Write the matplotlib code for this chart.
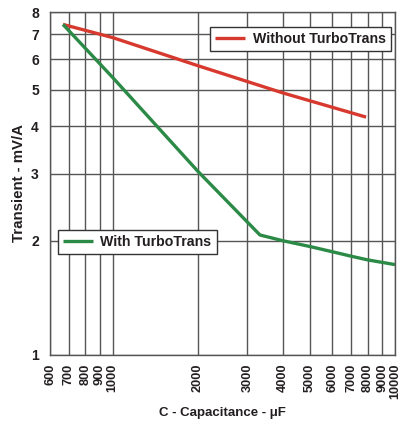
import matplotlib
matplotlib.use("Agg")
import matplotlib.pyplot as plt
from matplotlib.ticker import FixedLocator, NullLocator

# values
cap_without = [667, 1000, 2000, 4000, 7900]
trans_without = [7.42, 6.85, 5.78, 4.90, 4.23]

cap_with = [667, 1000, 2000, 3325, 4000, 5000, 6000, 7000, 8000, 10000]
trans_with = [7.42, 5.38, 3.05, 2.07, 2.00, 1.93, 1.87, 1.82, 1.78, 1.73]

x_ticks = [600, 700, 800, 900, 1000, 2000, 3000, 4000, 5000, 6000, 7000, 8000, 9000, 10000]
y_ticks = [1, 2, 3, 4, 5, 6, 7, 8]

plt.rcParams['font.family'] = ['Liberation Sans', 'DejaVu Sans']
txt = '#231f20'
grid_c = '#555555'

fig = plt.figure(figsize=(4.07, 4.29), dpi=100)
ax = fig.add_axes([50 / 407, 1 - 355 / 429, 345 / 407, 343 / 429])

ax.set_xscale('log')
ax.set_yscale('log')
ax.set_xlim(600, 10000)
ax.set_ylim(1, 8)

ax.xaxis.set_major_locator(FixedLocator(x_ticks))
ax.xaxis.set_minor_locator(NullLocator())
ax.yaxis.set_major_locator(FixedLocator(y_ticks))
ax.yaxis.set_minor_locator(NullLocator())
ax.set_xticklabels([str(v) for v in x_ticks], rotation=90, fontweight='bold',
                   fontsize=9.2, color=txt)
ax.set_yticklabels([str(v) for v in y_ticks], fontweight='bold', fontsize=10, color=txt)
ax.tick_params(axis='x', length=0, pad=6)
ax.tick_params(axis='y', length=0, pad=8)
ax.grid(True, color=grid_c, linewidth=1.0)
for s in ax.spines.values():
    s.set_color(grid_c)
    s.set_linewidth(1.0)

l1, = ax.plot(cap_without, trans_without, color='#d8392f', linewidth=2.4,
              solid_capstyle='butt', label='Without TurboTrans')
l2, = ax.plot(cap_with, trans_with, color='#2c8a47', linewidth=2.4,
              solid_capstyle='butt', label='With TurboTrans')

leg_kw = dict(frameon=True, fancybox=False, edgecolor='#333333', framealpha=1,
              handlelength=2.1, handletextpad=0.55, borderpad=0.35,
              borderaxespad=0, prop={'weight': 'bold', 'size': 10.2})
leg1 = ax.legend(handles=[l1], loc='upper left', bbox_to_anchor=(0.464, 0.956), **leg_kw)
ax.add_artist(leg1)
leg2 = ax.legend(handles=[l2], loc='upper left', bbox_to_anchor=(0.023, 0.364), **leg_kw)
for lg in (leg1, leg2):
    lg.get_frame().set_linewidth(1.0)
    for t in lg.get_texts():
        t.set_color(txt)

ax.set_xlabel('C - Capacitance - \u03bcF', fontweight='bold', fontsize=9.5, color=txt, labelpad=6)
ax.set_ylabel('Transient - mV/A', fontweight='bold', fontsize=10.8, color=txt, labelpad=4)

fig.savefig('out.png', dpi=100)
